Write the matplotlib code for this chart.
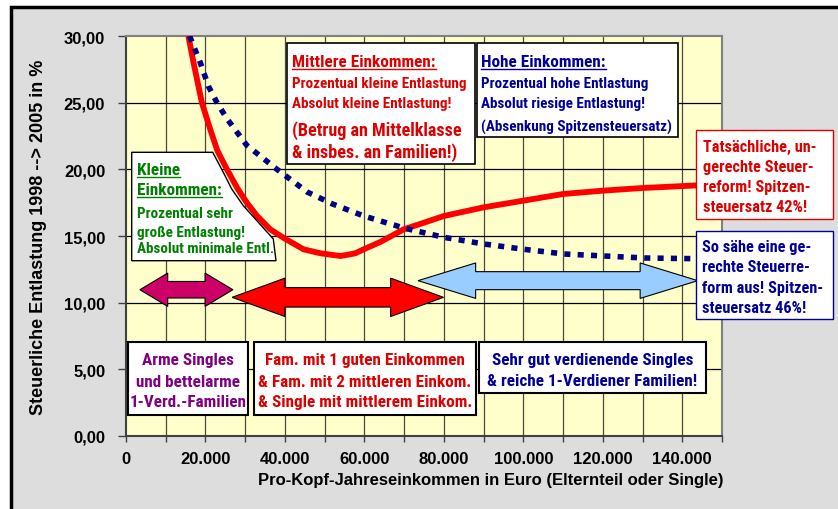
import os
import matplotlib
matplotlib.use("Agg")
import matplotlib.pyplot as plt
from matplotlib.patches import Rectangle, Polygon
from matplotlib.lines import Line2D
from matplotlib.ticker import FuncFormatter, MultipleLocator
from matplotlib.font_manager import FontProperties, fontManager

# --- data ---
red_x = [15700, 17000, 19100, 21200, 23000, 25400, 28000, 30400, 33000, 36300,
         40000, 44700, 49000, 54000, 57700, 59800, 64000, 69900, 75000, 80000,
         90000, 100000, 110000, 120000, 130000, 144000]
red_y = [30.0, 28.0, 25.0, 23.0, 21.4, 20.0, 18.6, 17.5, 16.5, 15.5,
         14.8, 14.0, 13.7, 13.5, 13.7, 14.0, 14.55, 15.5, 16.0, 16.5,
         17.15, 17.65, 18.15, 18.4, 18.6, 18.8]

blue_x = [16000, 18700, 20800, 22900, 25400, 30400, 38000, 45600, 52000, 59850,
          69940, 80000, 90100, 100200, 110300, 120400, 130500, 143000]
blue_y = [30.0, 28.0, 26.2, 25.0, 23.8, 21.8, 20.0, 18.3, 17.4, 16.5,
          15.6, 14.9, 14.4, 14.0, 13.65, 13.5, 13.35, 13.3]

# income ranges of the three groups (double arrows)
group_ranges = [(3500, 26900), (26700, 79900), (73500, 143900)]
group_levels = [10.97, 10.4, 11.65]
group_colors = ["#CC0066", "#FF0000", "#99CCFF"]

W, H = 838, 510


# pick a narrow bold font if one is installed
def pick_narrow():
    best, best_score = None, 99
    for f in fontManager.ttflist:
        fn = os.path.basename(f.fname).lower()
        nm = f.name.lower()
        if "italic" in fn or "oblique" in fn:
            continue
        if not ("narrow" in fn or "condensed" in fn or "narrow" in nm or "condensed" in nm):
            continue
        if not ("bold" in fn or f.weight in (700, "bold")):
            continue
        if any(k in fn for k in ("extrabold", "semibold", "black", "extracondensed", "ultracondensed")):
            continue
        if "liberation" in fn:
            score = 0
        elif "arial" in fn:
            score = 1
        elif fn.startswith("notosans-condensed"):
            score = 2
        elif "roboto" in fn:
            score = 3
        elif fn.startswith("notosans-semicondensed"):
            score = 4
        elif "dejavu" in fn:
            score = 6
        else:
            score = 8
        if score < best_score:
            best, best_score = f.fname, score
    return best


NARROW_FILE = pick_narrow()

fig = plt.figure(figsize=(W / 100, H / 100), dpi=100)
fig.patch.set_facecolor("white")
renderer = fig.canvas.get_renderer()


def fprop(size):
    if NARROW_FILE:
        return FontProperties(fname=NARROW_FILE, size=size)
    return FontProperties(family="Liberation Sans", weight="bold", size=size)


def fit(s, target_px):
    t = fig.text(0, 0, s, fontproperties=fprop(10))
    w = t.get_window_extent(renderer).width
    t.remove()
    return 10 * target_px / w


S_BODY = fit("Prozentual kleine Entlastung", 174)
S_TITLE = fit("Mittlere Einkommen:", 143)
S_BIG = fit("(Betrug an Mittelklasse", 170)
S_RIGHT = fit("Tatsächliche, un-", 113)
S_BOTTOM = fit("Fam. mit 1 guten Einkommen", 200)


def fp(x, y):
    return (x / W, 1 - y / H)


# outer grey frame
frame = Rectangle((11 / W, -0.05), 1.1, 1 - 8 / H + 0.05, transform=fig.transFigure,
                  facecolor="#DDDDDD", edgecolor="black", lw=2.5, zorder=-5)
fig.add_artist(frame)

ax = fig.add_axes([126 / W, 1 - 437 / H, (722 - 126) / W, (437 - 37) / H])
ax.set_facecolor("#FFFFCC")
ax.set_xlim(0, 150000)
ax.set_ylim(0, 30)

ax.xaxis.set_major_locator(MultipleLocator(20000))
ax.xaxis.set_minor_locator(MultipleLocator(10000))
ax.yaxis.set_major_locator(MultipleLocator(5))
ax.xaxis.set_major_formatter(FuncFormatter(lambda v, p: "0" if v == 0 else f"{int(v):,}".replace(",", ".")))
ax.yaxis.set_major_formatter(FuncFormatter(lambda v, p: f"{v:.2f}".replace(".", ",")))
ax.tick_params(axis="both", which="both", direction="out", color="#404040", width=1)
ax.tick_params(axis="x", which="both", length=4.5, pad=6)
ax.tick_params(axis="y", length=6, pad=9)
for lab in ax.get_xticklabels() + ax.get_yticklabels():
    lab.set_fontfamily("Liberation Sans")
    lab.set_fontweight("bold")
    lab.set_fontsize(12)

for v in range(10000, 150001, 10000):
    ax.axvline(v, color="#4A4A3A", lw=0.9, zorder=1)
for v in range(5, 30, 5):
    ax.axhline(v, color="black", lw=0.9, zorder=1)

ax.spines["left"].set_color("#404040")
ax.spines["bottom"].set_color("#404040")
ax.spines["top"].set_color("#808080")
ax.spines["right"].set_color("#808080")
for s in ax.spines.values():
    s.set_linewidth(1.5)

ax.set_xlabel("Pro-Kopf-Jahreseinkommen in Euro (Elternteil oder Single)",
              fontfamily="Liberation Sans", fontweight="bold", fontsize=12, labelpad=3)
ax.xaxis.set_label_coords((491 - 126) / (722 - 126), -0.09)
ax.set_ylabel("Steuerliche Entlastung 1998 --> 2005 in %",
              fontfamily="Liberation Sans", fontweight="bold", fontsize=13)
ax.yaxis.set_label_coords(-(126 - 47) / (722 - 126), 0.5)

# curves
ax.plot(red_x, red_y, color="#FF0000", lw=4.2, zorder=4, solid_capstyle="butt",
        solid_joinstyle="round")
ax.plot(blue_x, blue_y, color="#000080", lw=4.0, zorder=4,
        linestyle=(0, (1.1, 1.3)), dash_capstyle="butt")


# double arrows
def double_arrow(x0, x1, y, shaft, head, hl):
    return [(x0, y), (x0 + hl, y + head), (x0 + hl, y + shaft), (x1 - hl, y + shaft),
            (x1 - hl, y + head), (x1, y), (x1 - hl, y - head), (x1 - hl, y - shaft),
            (x0 + hl, y - shaft), (x0 + hl, y - head)]


arrow_shape = [(0.62, 1.25, 7000), (0.73, 1.44, 13300), (0.675, 1.33, 14500)]
arrow_z = [5, 6, 5]
for (x0, x1), y, c, (sh, hd, hl), z in zip(group_ranges, group_levels, group_colors, arrow_shape, arrow_z):
    ax.add_patch(Polygon(double_arrow(x0, x1, y, sh, hd, hl), closed=True,
                         facecolor=c, edgecolor="black", lw=0.8, zorder=z))


def box(x0, y0, x1, y1, ec="black", lw=1.2):
    r = Rectangle(fp(x0, y1), (x1 - x0) / W, (y1 - y0) / H, transform=fig.transFigure,
                  facecolor="white", edgecolor=ec, lw=lw, zorder=8, clip_on=False)
    ax.add_patch(r)


underlined = []


def txt(x, y, s, color, size, ha="left", ul=False):
    t = ax.text(*fp(x, y), s, transform=fig.transFigure, color=color,
                fontproperties=fprop(size), ha=ha, va="baseline", zorder=9, clip_on=False)
    if ul:
        underlined.append((t, y, color))
    return t


RED = "#DD0000"
NAVY = "#000099"
GREEN = "#008000"
PURPLE = "#800080"

# Mittlere Einkommen
box(287, 44, 475, 165)
txt(292, 67.3, "Mittlere Einkommen:", RED, S_TITLE, ul=True)
txt(292, 88.3, "Prozentual kleine Entlastung", RED, S_BODY)
txt(292, 108.3, "Absolut kleine Entlastung!", RED, S_BODY)
txt(292, 136, "(Betrug an Mittelklasse", RED, S_BIG)
txt(292, 158.3, "& insbes. an Familien!)", RED, S_BIG)

# Hohe Einkommen
box(477, 44, 678, 138)
txt(481, 67.3, "Hohe Einkommen:", NAVY, S_TITLE, ul=True)
txt(481, 88.3, "Prozentual hohe Entlastung", NAVY, S_BODY)
txt(481, 108.3, "Absolut riesige Entlastung!", NAVY, S_BODY)
txt(481, 131.7, "(Absenkung Spitzensteuersatz)", NAVY, S_BODY)

# right boxes
box(696, 131, 833, 220, ec="#E00000", lw=1.0)
for yy, s in zip([151.5, 171.8, 192, 212.3],
                 ["Tatsächliche, un-", "gerechte Steuer-", "reform! Spitzen-", "steuersatz 42%!"]):
    txt(703, yy, s, RED, S_RIGHT)
box(696, 232, 833, 320, ec=NAVY, lw=1.0)
for yy, s in zip([251.7, 272.2, 292.7, 313.2],
                 ["So sähe eine ge-", "rechte Steuerre-", "form aus! Spitzen-", "steuersatz 46%!"]):
    txt(702, yy, s, NAVY, S_RIGHT)

# Kleine Einkommen callout with curved edge
callout = [(131.7, 153.3), (212.7, 153.3), (223.3, 173.3), (231.7, 190), (243.3, 206.7),
           (258.3, 223.3), (273.3, 240), (276, 261.7), (131.7, 261.7)]
ax.add_patch(Polygon([fp(x, y) for x, y in callout], closed=True, transform=fig.transFigure,
                     facecolor="white", edgecolor="black", lw=1.0, zorder=8, clip_on=False))
txt(137, 175, "Kleine", GREEN, S_TITLE, ul=True)
txt(137, 195, "Einkommen:", GREEN, S_TITLE, ul=True)
txt(137, 218.3, "Prozentual sehr", GREEN, S_BODY)
txt(137, 236.7, "große Entlastung!", GREEN, S_BODY)
txt(137, 253.3, "Absolut minimale Entl.", GREEN, S_BODY)

# bottom group boxes
box(128, 343, 248, 416, lw=1.5)
for yy, s in zip([365, 386.7, 407.3], ["Arme Singles", "und bettelarme", "1-Verd.-Familien"]):
    txt(188, yy, s, PURPLE, S_BOTTOM, ha="center")
box(254, 343, 476, 416, lw=1.5)
for yy, s in zip([365, 386.7, 407.3], ["Fam. mit 1 guten Einkommen", "& Fam. mit 2 mittleren Einkom.",
                                       "& Single mit mittlerem Einkom."]):
    txt(365, yy, s, RED, S_BOTTOM, ha="center")
box(479, 343, 706, 394, lw=1.5)
for yy, s in zip([365, 386], ["Sehr gut verdienende Singles", "& reiche 1-Verdiener Familien!"]):
    txt(592.5, yy, s, NAVY, S_BOTTOM, ha="center")

# underline titles
fig.canvas.draw()
for t, y, c in underlined:
    bb = t.get_window_extent()
    yy = 1 - (y + 2.5) / H
    ax.add_line(Line2D([bb.x0 / W, bb.x1 / W], [yy, yy], transform=fig.transFigure,
                       color=c, lw=1.0, zorder=9, clip_on=False))

fig.savefig("out.png", dpi=100)
